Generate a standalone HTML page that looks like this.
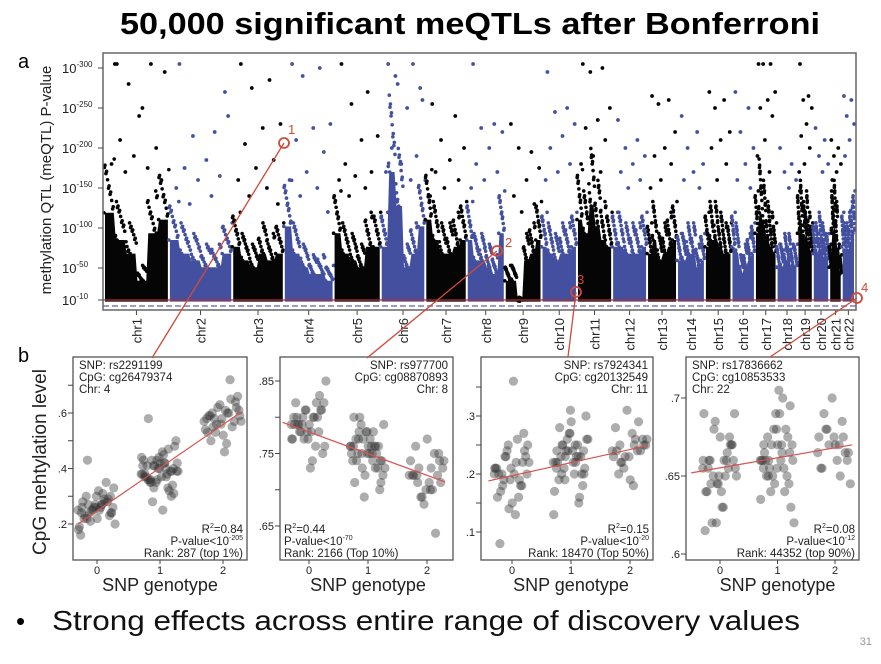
<!DOCTYPE html>
<html><head><meta charset="utf-8"><style>
body{margin:0;background:#fff;}
svg{display:block;font-family:"Liberation Sans",Arial,sans-serif;}
</style></head><body>
<svg id="s" width="881" height="664" viewBox="0 0 881 664">
<text x="470" y="34" text-anchor="middle" font-size="31" font-weight="bold" fill="#000" textLength="700" lengthAdjust="spacingAndGlyphs">50,000 significant meQTLs after Bonferroni</text>
<text x="18" y="68" font-size="20">a</text>
<text x="18" y="362" font-size="20">b</text>
<text transform="translate(51,180) rotate(-90)" text-anchor="middle" font-size="15" fill="#222">methylation QTL (meQTL) P-value</text>
<text transform="translate(46,462) rotate(-90)" text-anchor="middle" font-size="19" fill="#222">CpG mehtylation level</text>
<g id="man"></g>
<g id="sc"></g>
<g id="conn"></g>
<text x="16" y="630" font-size="26">•</text>
<text x="52" y="630" font-size="28" fill="#111" textLength="748" lengthAdjust="spacingAndGlyphs">Strong effects across entire range of discovery values</text>
<text x="872" y="645" font-size="11" fill="#999" text-anchor="end">31</text>
</svg>
<script>
const NS="http://www.w3.org/2000/svg";
function el(p,t,a){const e=document.createElementNS(NS,t);for(const k in a)e.setAttribute(k,a[k]);p.appendChild(e);return e;}
// ---- Manhattan data ----
const chrNames=["chr1","chr2","chr3","chr4","chr5","chr6","chr7","chr8","chr9","chr10","chr11","chr12","chr13","chr14","chr15","chr16","chr17","chr18","chr19","chr20","chr21","chr22"];
const chrLengths=[249,243,198,191,181,171,159,146,141,136,135,134,115,107,102,90,83,80,59,63,48,51];
const chrSkyline=[[140,100,80,40,110,130],[100,80,70,60,60,80],[90,70,60,80,70,80],[120,80,60,50,50,40],[110,80,70,60,90,90],[90,200,150,60,80,120],[130,100,80,80,90,100],[100,70,70,60,50,110],[40,40,10,70,80,100],[90,80,70,80,80,90],[130,110,150,120,100,90],[90,90,80,80,80,90],[80,100,70,80,90,100],[70,70,80,80,60,70],[90,100,100,90,80,80],[90,80,50,60,70,80],[110,140,120,100,90,80],[60,60,70,70,60,60],[110,120,100,110,90,80],[80,80,90,80,70,70],[60,110,120,100,60,50],[90,80,80,90,100,110]];
const chrHits=[[305,305,280,295,250,210,200,190,180,175,170,160,240,305],[305,220,215,240,185,175,165,160,150,140,130,270],[305,285,275,230,225,205,185,175,160,150,140,130],[305,300,290,230,225,210,195,170,160,150,140,120],[305,270,255,215,210,180,170,165,160,150,140],[305,305,280,260,250,200,190,180,170,160,290,275],[255,240,210,200,185,170,160,150,140],[305,230,225,220,200,180,170,160,150],[230,195,200,175,160,140,130,120],[295,250,245,230,215,200,180,170,160],[305,300,295,250,235,225,210,190,180,170],[235,210,200,190,180,170,160,150],[265,260,255,220,200,190,180,160,150],[240,220,200,180,170,160,150],[270,260,250,220,210,200,180,160],[270,250,220,200,180,160,150],[305,305,305,270,260,250,240,210,190,170],[200,180,170,160,150],[305,265,260,250,230,215,200,180,170],[225,210,190,180,170],[210,200,190,180,170,160],[265,260,240,230,210,190]];
const yTicks=[300,250,200,150,100,50,10];
const PX0=103,PX1=856,PY0=53,PY1=310;
const my=v=>308-v*0.8;
const totalLen=chrLengths.reduce((a,b)=>a+b,0);
const mx=mb=>PX0+1+mb/totalLen*(PX1-PX0-2);
const man=document.getElementById('man');
let acc=0;
chrNames.forEach((n,i)=>{
  const x0=mx(acc),x1=mx(acc+chrLengths[i]);const col=i%2?"#4350a0":"#050505";
  const g=el(man,'g',{});
  
  
  const sk=chrSkyline[i];const w=(x1-x0)/sk.length;
  let d=`M${x0+1},${my(8)}`;
  sk.forEach((v,k)=>{d+=` L${x0+1+k*w},${my(v*0.85)} L${x0+(k+1)*w-1},${my(v*0.85)}`;});
  d+=` L${x1-1},${my(8)} Z`;
  el(g,'path',{d,fill:col});
  chrHits[i].forEach((v,k)=>{
    const f=((k*0.618+0.13)%1)*0.9+0.05;
    const c=el(g,'circle',{cx:x0+f*(x1-x0),cy:my(v),r:1.9,fill:col});
    
    
  });
  sk.forEach((v,k)=>{for(let j=0;j<14;j++){const f=(k+((j*0.618+k*0.21)%1))/sk.length;el(g,'circle',{cx:x0+f*(x1-x0),cy:my(v*0.85+((j*0.37)%1)*v*0.5),r:1.8,fill:col});}});
  const cx=(x0+x1)/2;
  el(man,'line',{x1:cx,y1:PY1,x2:cx,y2:PY1+5,stroke:"#444"});
  const t=el(man,'text',{transform:`translate(${cx+5},${PY1+8}) rotate(-90)`,"text-anchor":"end","font-size":13,fill:"#222"});
  t.textContent=n;
  
  
  acc+=chrLengths[i];
});
el(man,'line',{x1:PX0,y1:300,x2:PX1,y2:300,stroke:"#b03030","stroke-width":1.2});
el(man,'line',{x1:PX0,y1:306,x2:PX1,y2:306,stroke:"#9a9ccc","stroke-width":2,"stroke-dasharray":"6,3"});
el(man,'rect',{x:PX0,y:PY0,width:PX1-PX0,height:PY1-PY0,fill:"none",stroke:"#666","stroke-width":1.5});
yTicks.forEach(v=>{
  el(man,'line',{x1:PX0-5,y1:my(v),x2:PX0,y2:my(v),stroke:"#444"});
  const t=el(man,'text',{x:62,y:my(v)+5,"text-anchor":"start","font-size":13,fill:"#222"});
  t.innerHTML=`10<tspan font-size="8" dy="-6">-${v}</tspan>`;
  
  
});
// ---- Scatter panels ----
const p1g0=[.25,.27,.22,.3,.26,.24,.28,.21,.33,.25,.23,.29,.26,.19,.31,.27,.24,.22,.28,.35,.25,.2,.26,.3,.23,.27,.16,.29,.24,.26,.32,.22,.28,.25,.18,.27,.43,.24,.3,.26];
const p1g1=[.38,.42,.35,.4,.44,.37,.33,.41,.39,.46,.36,.3,.43,.38,.4,.35,.48,.42,.37,.32,.41,.39,.45,.36,.34,.4,.43,.38,.28,.5,.37,.41,.39,.35,.44,.42,.36,.31,.4,.38,.47,.33,.42,.25,.58,.39,.36,.41,.37,.43];
const p1g2=[.57,.6,.55,.62,.58,.53,.65,.56,.59,.61,.5,.57,.63,.54,.6,.58,.66,.52,.59,.55,.62,.57,.49,.6,.64,.56,.58,.72,.53,.61,.46,.59];
const p2g0=[.79,.8,.78,.81,.77,.79,.82,.8,.76,.78,.79,.83,.81,.77,.8,.78,.75,.79,.82,.8,.77,.85,.74,.79,.81,.78,.8,.76,.79,.82,.73,.8,.78,.81,.77];
const p2g1=[.76,.75,.77,.74,.78,.76,.73,.75,.79,.77,.74,.76,.72,.75,.78,.8,.74,.76,.71,.75,.77,.73,.76,.75,.7,.78,.74,.76,.79,.72,.75,.77,.73,.69,.76,.74,.78,.71,.75,.8,.76,.73];
const p2g2=[.72,.73,.71,.74,.7,.72,.75,.69,.73,.71,.76,.72,.68,.74,.7,.73,.71,.77,.72,.64,.69,.74,.7,.72,.75];
const p3g0=[.2,.22,.18,.24,.21,.16,.19,.23,.25,.2,.17,.22,.14,.21,.26,.19,.23,.15,.2,.18,.24,.22,.13,.2,.27,.19,.21,.16,.23,.2,.36,.08,.18,.25,.21];
const p3g1=[.22,.25,.2,.24,.27,.21,.23,.19,.26,.22,.28,.2,.24,.17,.23,.25,.21,.29,.22,.16,.24,.26,.2,.23,.18,.27,.22,.25,.21,.3,.24,.19,.23,.26,.13,.22,.25,.2,.31,.24,.15,.23];
const p3g2=[.24,.25,.22,.26,.23,.28,.24,.21,.25,.27,.2,.24,.31,.23,.26,.22,.25,.19,.24,.29,.23,.26,.18,.25];
const p4g0=[.655,.66,.645,.67,.65,.64,.665,.68,.655,.63,.66,.67,.645,.69,.65,.62,.66,.675,.64,.655,.685,.65,.63,.66,.67,.645,.615,.66,.65,.69,.64,.655,.675,.62,.66];
const p4g1=[.66,.67,.65,.665,.68,.655,.64,.67,.66,.69,.65,.675,.645,.66,.7,.655,.63,.67,.665,.68,.65,.62,.66,.675,.645,.69,.66,.655,.64,.67,.705,.66,.65,.68,.635,.665,.66,.695,.655,.67];
const p4g2=[.665,.67,.68,.66,.675,.655,.685,.67,.645,.66,.69,.665,.7,.675,.65,.68,.665,.67,.655,.675];
const fitLines=[[-0.3,.2,2.3,.605],[-0.45,.793,2.3,.711],[-0.4,.188,2.3,.249],[-0.5,.652,2.3,.670]];
const panels=[
 {x0:73,x1:247,gx:[97,223],yv:[.2,.6],yp:[524,413],ticks:[.2,.3,.4,.5,.6,.7],lab:[".2","",".4","",".6",""],groups:[p1g0,p1g1,p1g2],
  tl:["SNP: rs2291199","CpG: cg26479374","Chr: 4"],ta:"start",br:["0.84","205","Rank: 287 (top 1%)"],ba:"end"},
 {x0:280,x1:453,gx:[309,427],yv:[.65,.85],yp:[526,381],ticks:[.65,.7,.75,.8,.85],lab:[".65","",".75","",".85"],groups:[p2g0,p2g1,p2g2],
  tl:["SNP: rs977700","CpG: cg08870893","Chr: 8"],ta:"end",br:["0.44","70","Rank: 2166 (Top 10%)"],ba:"start"},
 {x0:481,x1:653,gx:[512,630],yv:[.1,.3],yp:[532,416],ticks:[.1,.15,.2,.25,.3,.35],lab:[".1","",".2","",".3",""],groups:[p3g0,p3g1,p3g2],
  tl:["SNP: rs7924341","CpG: cg20132549","Chr: 11"],ta:"end",br:["0.15","20","Rank: 18470 (Top 50%)"],ba:"end"},
 {x0:686,x1:859,gx:[720,835],yv:[.6,.7],yp:[554,398],ticks:[.6,.65,.7],lab:[".6",".65",".7"],groups:[p4g0,p4g1,p4g2],
  tl:["SNP: rs17836662","CpG: cg10853533","Chr: 22"],ta:"start",br:["0.08","12","Rank: 44352 (top 90%)"],ba:"end"}];
const sc=document.getElementById('sc');
const Y0=357,Y1=560;
panels.forEach((p,pi)=>{
  const g=el(sc,'g',{});
  
  
  const sx=v=>p.gx[0]+(v)*(p.gx[1]-p.gx[0])/2;
  const sy=v=>p.yp[0]+(v-p.yv[0])*(p.yp[1]-p.yp[0])/(p.yv[1]-p.yv[0]);
  el(g,'rect',{x:p.x0,y:Y0,width:p.x1-p.x0,height:Y1-Y0,fill:"#fff",stroke:"#555","stroke-width":1.3});
  p.groups.forEach((arr,gi)=>{arr.forEach((v,i)=>{
    const j=(((i*0.618)%1)-0.5)*0.6;
    const c=el(g,'circle',{cx:sx(gi+j),cy:sy(v),r:4.6,fill:"#333","fill-opacity":0.4});
    
    
  });});
  const f=fitLines[pi];
  el(g,'line',{x1:sx(f[0]),y1:sy(f[1]),x2:sx(f[2]),y2:sy(f[3]),stroke:"#d9534f","stroke-width":1.2});
  p.ticks.forEach((t,k)=>{
    el(g,'line',{x1:p.x0-5,y1:sy(t),x2:p.x0,y2:sy(t),stroke:"#444"});
    if(p.lab[k]){const tx=el(g,'text',{x:p.x0-6,y:sy(t)+4,"text-anchor":"end","font-size":11,fill:"#222"});tx.textContent=p.lab[k];}
  });
  [0,1,2].forEach(k=>{
    el(g,'line',{x1:sx(k),y1:Y1,x2:sx(k),y2:Y1+4,stroke:"#444"});
    const tx=el(g,'text',{x:sx(k),y:Y1+14,"text-anchor":"middle","font-size":11,fill:"#222"});tx.textContent=k;
  });
  const xl=el(g,'text',{x:sx(1),y:Y1+31,"text-anchor":"middle","font-size":18,fill:"#222"});xl.textContent="SNP genotype";
  
  
  const tx0=p.ta==="start"?p.x0+6:p.x1-5;
  p.tl.forEach((s,k)=>{const t=el(g,'text',{x:tx0,y:Y0+12+k*12,"text-anchor":p.ta,"font-size":11.5,fill:"#222"});t.textContent=s;});
  const bx=p.ba==="start"?p.x0+4:p.x1-4;
  let t=el(g,'text',{x:bx,y:Y1-27,"text-anchor":p.ba,"font-size":11.5,fill:"#222"});t.innerHTML=`R<tspan font-size="7" dy="-5">2</tspan><tspan dy="5">=${p.br[0]}</tspan>`;
  t=el(g,'text',{x:bx,y:Y1-15,"text-anchor":p.ba,"font-size":11.5,fill:"#222"});t.innerHTML=`P-value&lt;10<tspan font-size="7" dy="-5">-${p.br[1]}</tspan>`;
  t=el(g,'text',{x:bx,y:Y1-3,"text-anchor":p.ba,"font-size":11.5,fill:"#222"});t.textContent=p.br[2];
});
// connectors
const conn=document.getElementById('conn');
[[284,143,152,358,"1",288,134],[497,251,367,358,"2",505,247],[576,292,568,357,"3",577,284],[857,298,770,357,"4",861,292]].forEach(c=>{
  el(conn,'line',{x1:c[0],y1:c[1],x2:c[2],y2:c[3],stroke:"#d04a38","stroke-width":1.3});
  const o=el(conn,'circle',{cx:c[0],cy:c[1],r:5,fill:"none",stroke:"#d04a38","stroke-width":1.8});
  
  
  const t=el(conn,'text',{x:c[5],y:c[6],"font-size":13,fill:"#d04a38"});t.textContent=c[4];
});
</script>
</body></html>
